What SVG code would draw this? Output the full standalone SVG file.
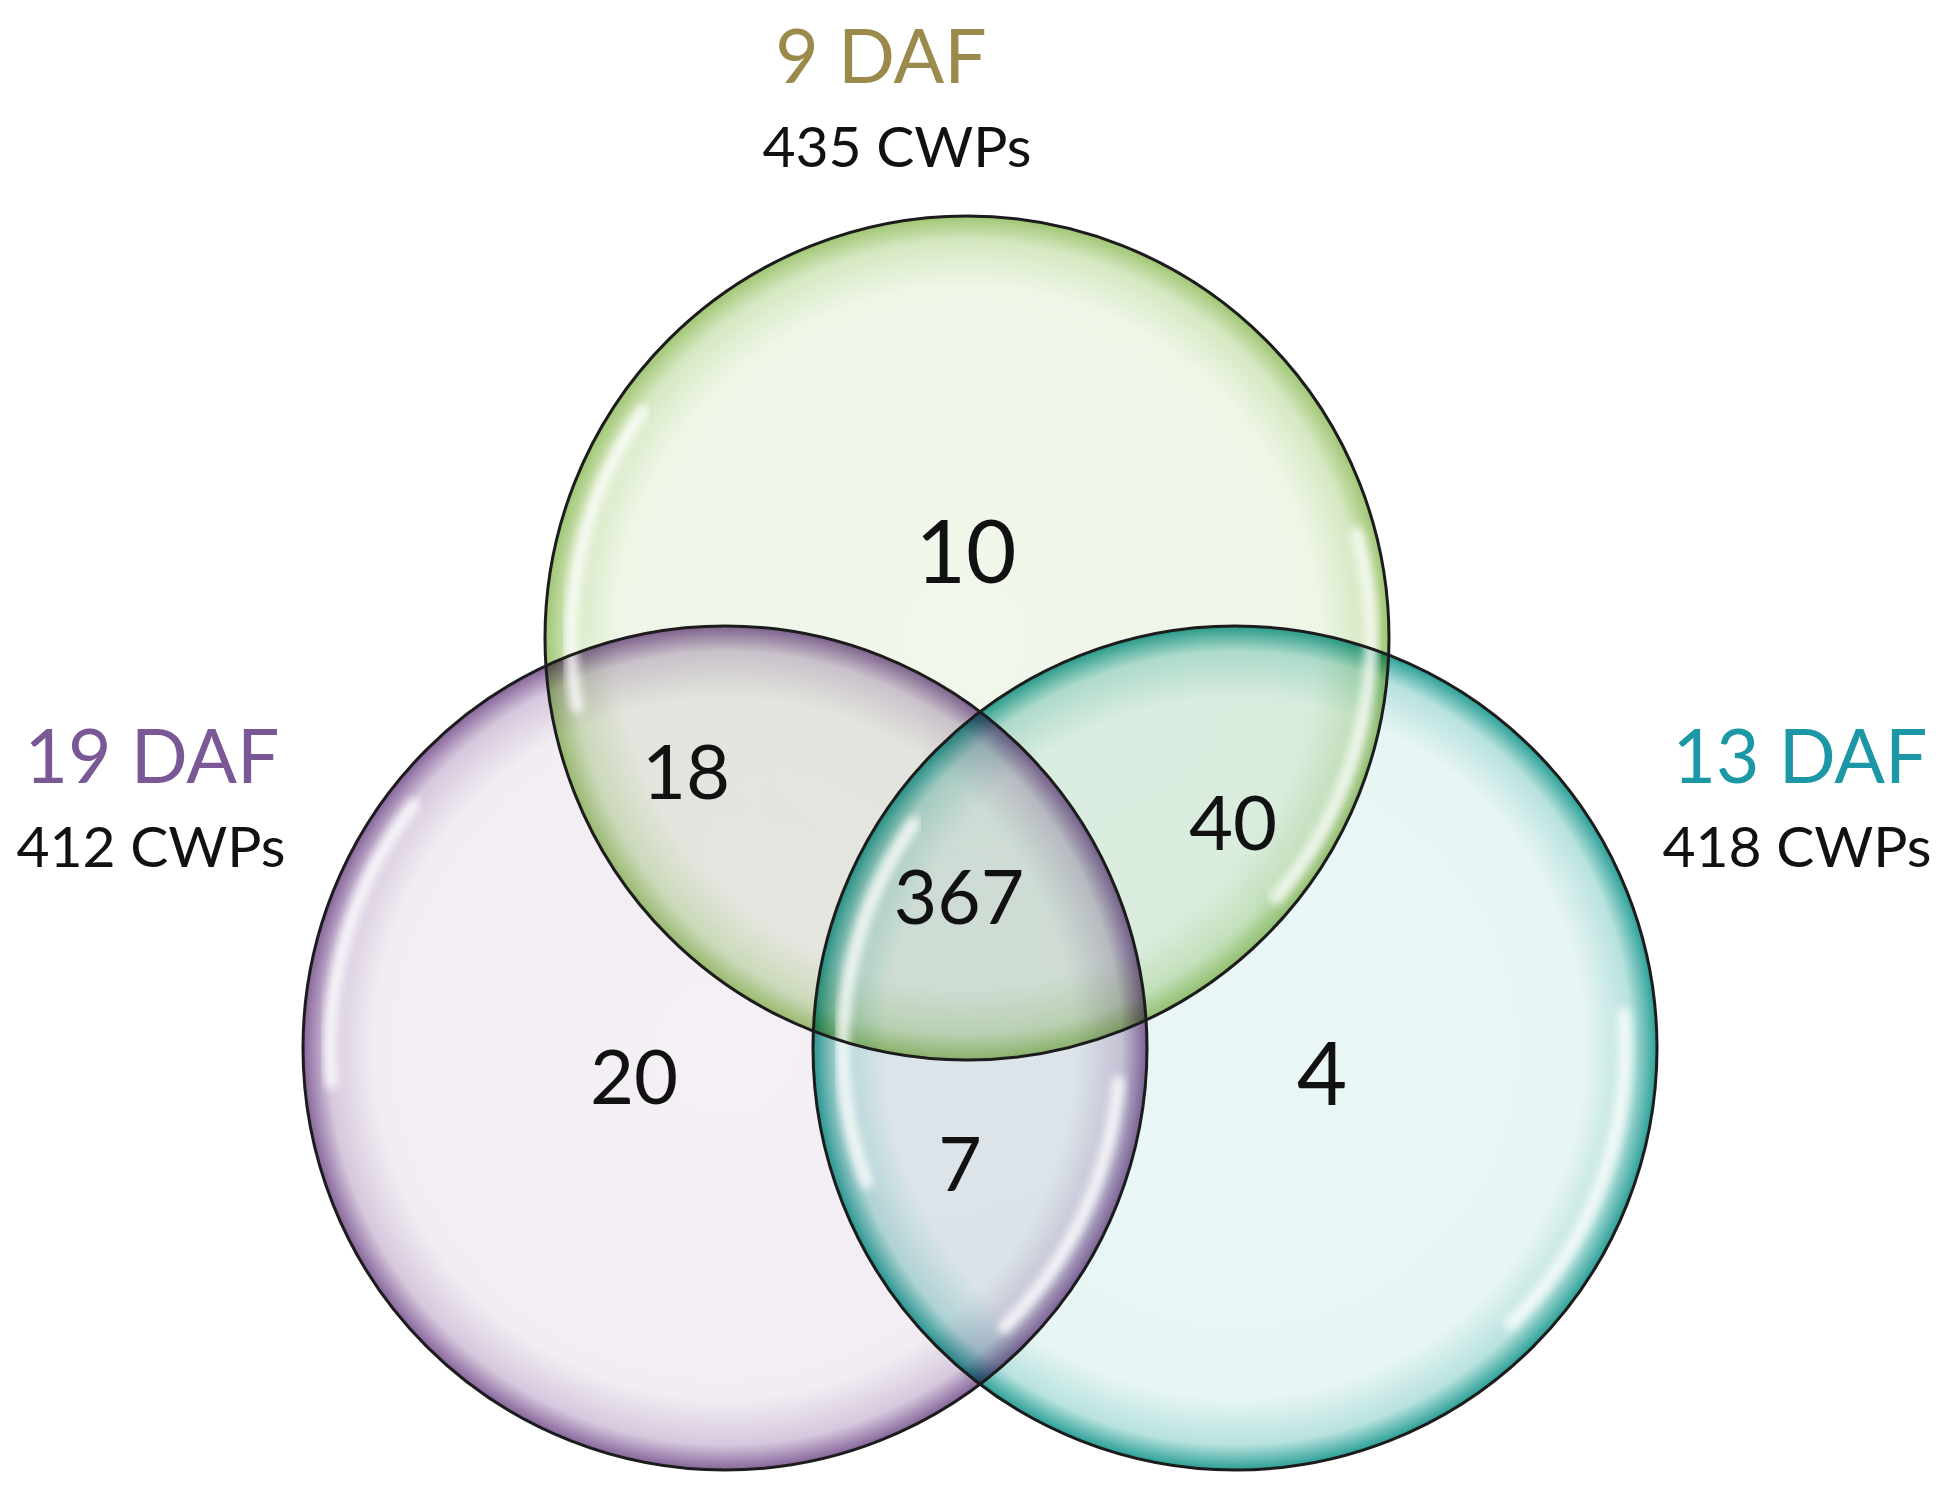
<svg xmlns="http://www.w3.org/2000/svg" width="1946" height="1506" viewBox="0 0 1946 1506">
  <style>
    .fill { mix-blend-mode: multiply; }
    .edge { fill: none; stroke: #1c1c1c; stroke-width: 3; }
    .hl { fill: none; stroke: #ffffff; stroke-width: 13; stroke-linecap: round; opacity: 0.8; filter: url(#blur); }
    .num { font-family: Lato, "Open Sans", sans-serif; fill: #111111; text-anchor: middle; }
    .title { font-family: Lato, "Open Sans", sans-serif; text-anchor: middle; font-size: 75px; }
    .sub { font-family: Lato, "Open Sans", sans-serif; fill: #111111; text-anchor: middle; font-size: 57px; }
  </style>
  <defs>
    <radialGradient id="gGreen" cx="0.5" cy="0.5" r="0.5">
      <stop offset="0" stop-color="#F1F7EB"/>
      <stop offset="0.83" stop-color="#EFF6E8"/>
      <stop offset="0.94" stop-color="#D6E8C2"/>
      <stop offset="1" stop-color="#A0C674"/>
    </radialGradient>
    <radialGradient id="gPurple" cx="0.5" cy="0.5" r="0.5">
      <stop offset="0" stop-color="#F4F0F5"/>
      <stop offset="0.83" stop-color="#F2EDF3"/>
      <stop offset="0.94" stop-color="#D6C8DD"/>
      <stop offset="1" stop-color="#86659B"/>
    </radialGradient>
    <radialGradient id="gTeal" cx="0.5" cy="0.5" r="0.5">
      <stop offset="0" stop-color="#EAF7F6"/>
      <stop offset="0.83" stop-color="#E7F5F4"/>
      <stop offset="0.94" stop-color="#B8E2DE"/>
      <stop offset="1" stop-color="#2AA097"/>
    </radialGradient>
    <filter id="blur" x="-10%" y="-10%" width="120%" height="120%">
      <feGaussianBlur stdDeviation="4"/>
    </filter>
  </defs>
  <rect x="0" y="0" width="1946" height="1506" fill="#ffffff"/>

  <g id="fills">
    <circle class="fill" cx="725" cy="1048" r="422" fill="url(#gPurple)"/>
    <circle class="fill" cx="1235" cy="1048" r="422" fill="url(#gTeal)"/>
    <circle class="fill" cx="967" cy="638" r="422" fill="url(#gGreen)"/>
  </g>

  <g id="highlights">
    <path class="hl" d="M642.6,410.9 A396,396 0 0 0 577,706.7"/>
    <path class="hl" d="M1357.2,533.4 A404,404 0 0 1 1276.5,897.7"/>
    <path class="hl" d="M413.7,804.8 A395,395 0 0 0 331.5,1082.4"/>
    <path class="hl" d="M1118.5,1082.4 A395,395 0 0 1 1004.3,1327.3"/>
    <path class="hl" d="M913.9,823.2 A392,392 0 0 0 866.6,1182.1"/>
    <path class="hl" d="M1623.5,1014 A390,390 0 0 1 1510.8,1323.8"/>
  </g>

  <g id="node-9DAF">
    <circle class="edge" cx="967" cy="638" r="422"/>
    <text class="title" x="881" y="83" fill="#9A8A4C">9 DAF</text>
    <text class="sub" x="897" y="167">435 CWPs</text>
  </g>
  <g id="node-19DAF">
    <circle class="edge" cx="725" cy="1048" r="422"/>
    <text class="title" x="152" y="783" fill="#7A5896">19 DAF</text>
    <text class="sub" x="151" y="867">412 CWPs</text>
  </g>
  <g id="node-13DAF">
    <circle class="edge" cx="1235" cy="1048" r="422"/>
    <text class="title" x="1800" y="783" fill="#1C97A5">13 DAF</text>
    <text class="sub" x="1797" y="867">418 CWPs</text>
  </g>

  <g id="counts">
    <text class="num" x="966" y="583" font-size="87">10</text>
    <text class="num" x="686" y="799" font-size="76">18</text>
    <text class="num" x="959" y="924" font-size="75">367</text>
    <text class="num" x="1233" y="850" font-size="76">40</text>
    <text class="num" x="634" y="1104" font-size="76">20</text>
    <text class="num" x="960" y="1191" font-size="75">7</text>
    <text class="num" x="1322" y="1105" font-size="87">4</text>
  </g>
</svg>
